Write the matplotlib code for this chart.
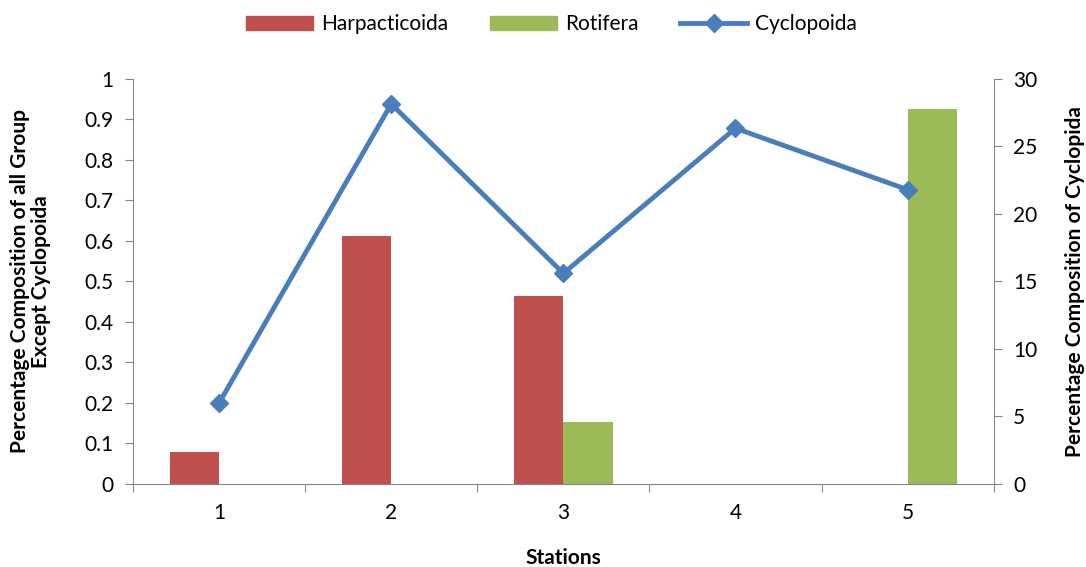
import matplotlib
matplotlib.use("Agg")
import matplotlib.pyplot as plt
import numpy as np
from matplotlib.lines import Line2D
from matplotlib.patches import Patch

plt.rcParams['font.family'] = ['Lato', 'DejaVu Sans']

stations = ["1", "2", "3", "4", "5"]
harpacticoida = [0.079, 0.613, 0.463, 0.0, 0.0]
rotifera = [0.0, 0.0, 0.154, 0.0, 0.925]
cyclopoida = [6.0, 28.15, 15.6, 26.35, 21.8]

red = "#C0504D"
green = "#9BBB59"
blue = "#4A7EBB"
gray = "#868686"
fs = 15

fig = plt.figure(figsize=(10.86, 5.67), dpi=100)
ax = fig.add_axes([0.1225, 0.1464, 0.7925, 0.7143])
x = np.arange(1, len(stations) + 1)
w = 1 / 3.5
ax.bar(x - w / 2, harpacticoida, width=w, color=red, zorder=2)
ax.bar(x + w / 2, rotifera, width=w, color=green, zorder=2)
ax.set_xlim(0.5, 5.5)
ax.set_ylim(0, 1)
ax.set_yticks(np.arange(0, 1.01, 0.1))
ax.set_yticklabels(["0", "0.1", "0.2", "0.3", "0.4", "0.5", "0.6", "0.7", "0.8", "0.9", "1"])
ax.set_xticks(np.arange(0.5, 5.6, 1.0))
ax.set_xticklabels([])
ax.set_xticks(x, minor=True)
ax.set_xticklabels(stations, minor=True)
ax.tick_params(axis='x', which='major', length=6, color=gray, direction='out')
ax.tick_params(axis='x', which='minor', length=0, labelsize=fs, pad=14)
ax.tick_params(axis='y', length=6, color=gray, labelsize=fs, pad=8)
for s in ['top', 'right']:
    ax.spines[s].set_visible(False)
for s in ['left', 'bottom']:
    ax.spines[s].set_color(gray)
ax.set_xlabel("Stations", fontsize=fs, fontweight='bold', labelpad=18)
ax.set_ylabel("Percentage Composition of all Group\nExcept Cyclopoida", fontsize=fs,
              fontweight='bold', labelpad=24, linespacing=1.1)

ax2 = ax.twinx()
ax2.plot(x, cyclopoida, color=blue, lw=3.5, marker='D', ms=9, zorder=3)
ax2.set_ylim(0, 30)
ax2.set_yticks(np.arange(0, 31, 5))
ax2.tick_params(axis='y', length=6, color=gray, labelsize=fs, pad=8)
for s in ['top', 'left', 'bottom']:
    ax2.spines[s].set_visible(False)
ax2.spines['right'].set_color(gray)
ax2.set_ylabel("Percentage Composition of Cyclopida", fontsize=fs, fontweight='bold', labelpad=20)

handles = [Patch(color=red, label="Harpacticoida"),
           Patch(color=green, label="Rotifera"),
           Line2D([0], [0], color=blue, lw=3.5, marker='D', ms=9, label="Cyclopoida")]
fig.legend(handles=handles, loc='center', bbox_to_anchor=(0.508, 0.957), ncol=3,
           frameon=False, fontsize=fs, handlelength=3.2, handletextpad=0.4, columnspacing=2.0)

fig.savefig("out.png", dpi=100)
